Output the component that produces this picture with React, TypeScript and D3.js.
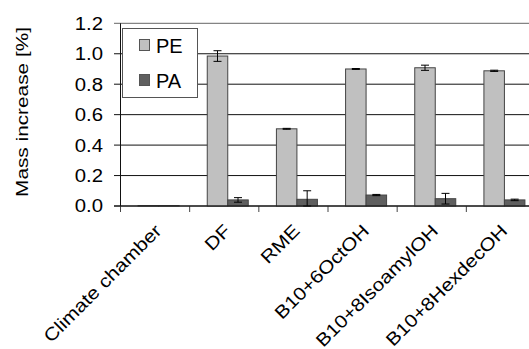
import React from "react";
import * as d3 from "d3";

const categories = ["Climate chamber", "DF", "RME", "B10+6OctOH", "B10+8IsoamylOH", "B10+8HexdecOH"];
const peValues = [0.003, 0.985, 0.507, 0.9, 0.908, 0.888];
const peErrors = [0.0, 0.035, 0.003, 0.003, 0.017, 0.004];
const paValues = [0.003, 0.04, 0.044, 0.072, 0.048, 0.04];
const paErrors = [0.0, 0.015, 0.056, 0.004, 0.035, 0.005];
const yTicks = [0, 0.2, 0.4, 0.6, 0.8, 1.0, 1.2];
const seriesNames = ["PE", "PA"];

const W = 529;
const H = 349;
const FONT = "'Liberation Sans', Arial, sans-serif";

export default function App() {
  const x = d3.scaleBand<string>().domain(categories).range([120, 535]).padding(0);
  const y = d3.scaleLinear().domain([0, 1.2]).range([206, 23.3]);
  const bw = 20.5;
  const colors = ["#c0c0c0", "#5f5f5f"];
  const series = [
    { vals: peValues, errs: peErrors, off: -16.5 },
    { vals: paValues, errs: paErrors, off: 4 },
  ];

  return (
    <svg width={W} height={H} style={{ position: "absolute", left: 0, top: 0, background: "#fff" }} fontFamily={FONT}>
      {/* gridlines */}
      {yTicks.map((t, i) => (
        <g key={i}>
          <line x1={114} x2={W} y1={y(t)} y2={y(t)} stroke={t === 1.2 ? "#666" : "#111"} strokeWidth={1} />
          <text transform={`translate(103,${y(t)}) scale(1.13,1)`} dy="0.36em" textAnchor="end" fontSize={18} fill="#000">
            {d3.format(".1f")(t)}
          </text>
        </g>
      ))}
      {/* y axis */}
      <line x1={120.5} x2={120.5} y1={y(1.2)} y2={y(0)} stroke="#111" />
      {/* x ticks */}
      {categories.map((c, i) => (
        <line key={i} x1={(x(c) as number) + 0.5} x2={(x(c) as number) + 0.5} y1={y(0)} y2={y(0) + 6} stroke="#444" />
      ))}
      {/* bars */}
      {series.map((s, si) =>
        categories.map((c, i) => {
          const cx = (x(c) as number) + x.bandwidth() / 2;
          const x0 = cx + s.off;
          const top = y(s.vals[i]);
          const e = s.errs[i];
          const mid = x0 + bw / 2;
          return (
            <g key={si + "-" + i}>
              <rect x={x0} y={top} width={bw} height={y(0) - top} fill={colors[si]} stroke="#444" strokeWidth={1} />
              {e > 0 && (
                <g stroke="#000" strokeWidth={1}>
                  <line x1={mid} x2={mid} y1={y(s.vals[i] + e)} y2={y(Math.max(0, s.vals[i] - e))} />
                  <line x1={mid - 4} x2={mid + 4} y1={y(s.vals[i] + e)} y2={y(s.vals[i] + e)} />
                  <line x1={mid - 4} x2={mid + 4} y1={y(Math.max(0, s.vals[i] - e))} y2={y(Math.max(0, s.vals[i] - e))} />
                </g>
              )}
            </g>
          );
        })
      )}
      {/* x axis */}
      <line x1={114} x2={W} y1={y(0)} y2={y(0)} stroke="#111" />
      {/* category labels */}
      {categories.map((c, i) => {
        const cx = (x(c) as number) + x.bandwidth() / 2;
        return (
          <text key={i} transform={`translate(${cx + 8},${232}) rotate(-45) scale(1.16,1)`} textAnchor="end" fontSize={18} fill="#000">
            {c}
          </text>
        );
      })}
      {/* y label */}
      <text transform={`translate(28,112) rotate(-90) scale(1.3,1)`} textAnchor="middle" fontSize={16} fill="#000">
        Mass increase [%]
      </text>
      {/* legend */}
      <rect x={122.5} y={28.5} width={75} height={69} fill="#fff" stroke="#555" />
      {seriesNames.map((n, i) => (
        <g key={n}>
          <rect x={139.5} y={39.5 + i * 35} width={10} height={11} fill={colors[i]} stroke="#555" />
          <text x={156} y={53 + i * 35} fontSize={20} fill="#000">{n}</text>
        </g>
      ))}
    </svg>
  );
}
